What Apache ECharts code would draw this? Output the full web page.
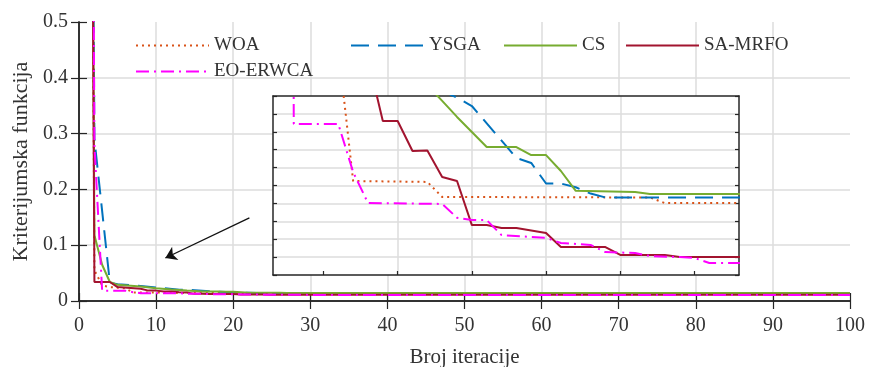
<!DOCTYPE html>
<html>
<head>
<meta charset="utf-8">
<script src="https://cdn.jsdelivr.net/npm/echarts@6.0.0/dist/echarts.min.js"></script>
<style>html,body{margin:0;padding:0;background:#fff;}#c{width:870px;height:367px;}</style>
</head>
<body>
<div id="c"></div>
<script>
// ---- data (iteration, objective value) ----
const itWOA  = [1, 2, 3, 4, 6, 7, 12, 13, 27, 28, 100];
const valWOA = [2.6, 0.055, 0.028, 0.025, 0.0227, 0.01525, 0.0152, 0.01436, 0.01433, 0.01402, 0.01402];

const itYSGA  = [1, 2, 4, 5, 8, 11, 13, 14, 15, 18, 19, 20, 21, 22, 23, 24, 100];
const valYSGA = [2.4, 0.29, 0.033, 0.030, 0.027, 0.023, 0.0203, 0.0199, 0.01944, 0.01654, 0.01626, 0.01511, 0.01511, 0.0149, 0.01455, 0.01433, 0.0143];

const itCS  = [1, 2, 3, 4, 5, 8, 10, 12, 13, 14, 15, 16, 18, 19, 20, 21, 22, 26, 27, 100];
const valCS = [2.5, 0.118, 0.065, 0.034, 0.029, 0.026, 0.023, 0.0206, 0.01973, 0.01883, 0.01799, 0.01715, 0.01715, 0.0167, 0.0167, 0.01581, 0.0147, 0.01464, 0.01453, 0.01453];

const itSAMRFO  = [1, 2, 4, 5, 8, 9, 10, 11, 12, 13, 14, 15, 16, 17, 18, 20, 21, 24, 25, 28, 29, 100];
const valSAMRFO = [2.7, 0.034, 0.034, 0.025, 0.0221, 0.0186, 0.0186, 0.01693, 0.01695, 0.01547, 0.01525, 0.01279, 0.01279, 0.01263, 0.01263, 0.01235, 0.01156, 0.01156, 0.01112, 0.01112, 0.0110, 0.0110];

const itEO  = [1, 2, 3, 6, 7, 8, 13, 14, 15, 16, 17, 20, 21, 23, 24, 26, 27, 29, 30, 31, 100];
const valEO = [3.0, 0.28, 0.01844, 0.01844, 0.01575, 0.01402, 0.01397, 0.0132, 0.01307, 0.01307, 0.01223, 0.01207, 0.01179, 0.01168, 0.01128, 0.01123, 0.01106, 0.0110, 0.01095, 0.01067, 0.01067];

const seriesNames = ['WOA', 'YSGA', 'CS', 'SA-MRFO', 'EO-ERWCA'];

// axes
const xMin = 0, xMax = 100, xInterval = 10;
const yMin = 0, yMax = 0.5, yInterval = 0.1;
// inset (zoomed) axes
const insetXMin = 1.6, insetXMax = 33;
const insetXTicks = [5, 10, 15, 20, 25, 30];
const insetYMin = 0.010, insetYMax = 0.020, insetYInterval = 0.001;

// arrow annotation (data coordinates of main axes)
const arrowFrom = [22.1, 0.149];
const arrowTo = [11.2, 0.077];

// ---- styling ----
const FONT = 'Liberation Serif';
const TXT = '#333';
const AX = '#262626';
const GRIDC = '#dcdcdc';
const styles = {
  'WOA':      {color: '#D95319', type: [2, 4]},
  'YSGA':     {color: '#0072BD', type: [18, 9]},
  'CS':       {color: '#77AC30', type: 'solid'},
  'SA-MRFO':  {color: '#A2142F', type: 'solid'},
  'EO-ERWCA': {color: '#FF00FF', type: [13, 5, 2, 5]}
};
const dataMap = {
  'WOA': [itWOA, valWOA], 'YSGA': [itYSGA, valYSGA], 'CS': [itCS, valCS],
  'SA-MRFO': [itSAMRFO, valSAMRFO], 'EO-ERWCA': [itEO, valEO]
};
function pairs(it, v) { return it.map((x, i) => [x, v[i]]); }

const series = [];
seriesNames.forEach((n, k) => {
  const d = pairs(dataMap[n][0], dataMap[n][1]);
  const st = styles[n];
  const main = {
    name: n, type: 'line', xAxisIndex: 0, yAxisIndex: 0, data: d,
    symbol: 'none', clip: true, z: 2 + k * 0.1, animation: false,
    lineStyle: {color: st.color, width: 2, type: st.type},
    itemStyle: {color: st.color}
  };
  if (k === 0) {
    main.markLine = {
      silent: true, animation: false,
      symbol: ['none', 'arrow'], symbolSize: 11,
      label: {show: false},
      lineStyle: {color: '#111', width: 1.3, type: 'solid'},
      data: [[{coord: arrowFrom}, {coord: arrowTo}]]
    };
  }
  series.push(main);
  series.push({
    name: n, type: 'line', xAxisIndex: 2, yAxisIndex: 2, data: d,
    symbol: 'none', clip: true, z: 10 + k * 0.1, animation: false,
    lineStyle: {color: st.color, width: 2, type: st.type},
    itemStyle: {color: st.color}
  });
});

const legendPos = {
  'WOA': [135, 36], 'YSGA': [350, 36], 'CS': [503, 36], 'SA-MRFO': [625, 36], 'EO-ERWCA': [135, 62]
};
const legends = seriesNames.map(n => ({
  data: [n], left: legendPos[n][0], top: legendPos[n][1], padding: 0,
  itemWidth: 73, itemHeight: 14, selectedMode: false, z: 20,
  itemStyle: {opacity: 0},
  textStyle: {fontFamily: FONT, fontSize: 19, color: TXT}
}));

const tickStyle = {lineStyle: {color: AX, width: 1.2}};
const option = {
  animation: false,
  backgroundColor: '#fff',
  legend: legends,
  grid: [
    {left: 79, right: 20, top: 22, bottom: 66, show: false, containLabel: false, outerBoundsMode: 'none'},
    {left: 273, top: 96, width: 466, height: 179, show: true, backgroundColor: '#fff', borderWidth: 0, z: 5,
     containLabel: false, outerBoundsMode: 'none'}
  ],
  xAxis: [
    {type: 'value', gridIndex: 0, position: 'bottom', min: xMin, max: xMax, interval: xInterval,
     name: 'Broj iteracije', nameLocation: 'middle', nameGap: 46,
     nameTextStyle: {fontFamily: FONT, fontSize: 21, color: TXT},
     axisLine: {show: true, lineStyle: {color: AX, width: 1.5}},
     axisTick: Object.assign({show: true, inside: true, length: 8}, tickStyle),
     axisLabel: {fontFamily: FONT, fontSize: 20, color: TXT, margin: 15},
     splitLine: {show: true, showMinLine: false, showMaxLine: false, lineStyle: {color: GRIDC, width: 1.5}}},
    {type: 'value', gridIndex: 0, position: 'top', min: xMin, max: xMax, interval: xInterval,
     axisLine: {show: true, lineStyle: {color: AX, width: 1.5}},
     axisTick: Object.assign({show: true, inside: true, length: 8}, tickStyle),
     axisLabel: {show: false}, splitLine: {show: false}},
    {type: 'value', gridIndex: 1, position: 'bottom', min: insetXMin, max: insetXMax, splitNumber: 6, z: 6,
     axisLine: {show: true, lineStyle: {color: AX, width: 1.5}},
     axisTick: Object.assign({show: true, inside: true, length: 4, customValues: insetXTicks}, tickStyle),
     axisLabel: {show: false},
     splitLine: {show: true, showMinLine: false, showMaxLine: false, lineStyle: {color: GRIDC, width: 1.5}}},
    {type: 'value', gridIndex: 1, position: 'top', min: insetXMin, max: insetXMax, z: 6,
     axisLine: {show: true, lineStyle: {color: AX, width: 1.5}},
     axisTick: {show: false}, axisLabel: {show: false}, splitLine: {show: false}}
  ],
  yAxis: [
    {type: 'value', gridIndex: 0, position: 'left', min: yMin, max: yMax, interval: yInterval,
     name: 'Kriterijumska funkcija', nameLocation: 'middle', nameGap: 43,
     nameTextStyle: {fontFamily: FONT, fontSize: 22, color: TXT},
     axisLine: {show: true, lineStyle: {color: AX, width: 1.5}},
     axisTick: Object.assign({show: true, inside: true, length: 8}, tickStyle),
     axisLabel: {fontFamily: FONT, fontSize: 20, color: TXT, margin: 11},
     splitLine: {show: true, showMinLine: false, showMaxLine: false, lineStyle: {color: GRIDC, width: 1.5}}},
    {type: 'value', gridIndex: 0, position: 'right', min: yMin, max: yMax, interval: yInterval,
     axisLine: {show: true, lineStyle: {color: AX, width: 1.5}},
     axisTick: Object.assign({show: true, inside: true, length: 8}, tickStyle),
     axisLabel: {show: false}, splitLine: {show: false}},
    {type: 'value', gridIndex: 1, position: 'left', min: insetYMin, max: insetYMax, interval: insetYInterval, z: 6,
     axisLine: {show: true, lineStyle: {color: AX, width: 1.5}},
     axisTick: Object.assign({show: true, inside: true, length: 4}, tickStyle),
     axisLabel: {show: false},
     splitLine: {show: true, showMinLine: false, showMaxLine: false, lineStyle: {color: GRIDC, width: 1.5}}},
    {type: 'value', gridIndex: 1, position: 'right', min: insetYMin, max: insetYMax, interval: insetYInterval, z: 6,
     axisLine: {show: true, lineStyle: {color: AX, width: 1.5}},
     axisTick: Object.assign({show: true, inside: true, length: 4}, tickStyle),
     axisLabel: {show: false}, splitLine: {show: false}}
  ],
  series: series
};
const chart = echarts.init(document.getElementById('c'), null, {renderer: 'canvas'});
chart.setOption(option);
</script>
</body>
</html>
